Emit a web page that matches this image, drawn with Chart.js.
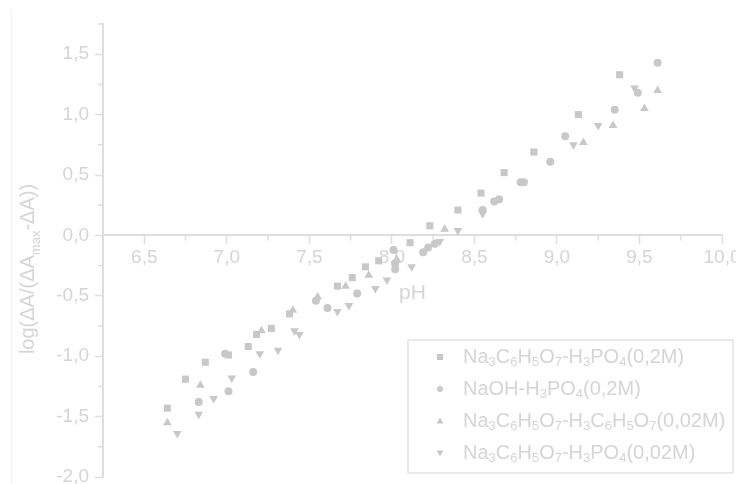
<!DOCTYPE html>
<html>
<head>
<meta charset="utf-8">
<script src="https://cdn.jsdelivr.net/npm/chart.js"></script>
<style>
  body { margin: 0; background: #fff; }
  #wrap { width: 736px; height: 484px; }
</style>
</head>
<body>
<div id="wrap"><canvas id="c" width="736" height="484"></canvas></div>
<script>
// Series (pH, log value)
const seriesNames = [
    "Na_3C_6H_5O_7-H_3PO_4(0,2M)",
    "NaOH-H_3PO_4(0,2M)",
    "Na_3C_6H_5O_7-H_3C_6H_5O_7(0,02M)",
    "Na_3C_6H_5O_7-H_3PO_4(0,02M)"
];

const citPhos02X = [6.64, 6.75, 6.87, 7.01, 7.13, 7.18, 7.27, 7.38, 7.67, 7.76, 7.84, 7.92, 8.11, 8.23, 8.40, 8.54, 8.68, 8.86, 9.13, 9.38];
const citPhos02Y = [-1.43, -1.19, -1.05, -0.99, -0.92, -0.82, -0.77, -0.65, -0.42, -0.35, -0.26, -0.21, -0.06, 0.08, 0.21, 0.35, 0.52, 0.69, 1.00, 1.33];

const naohPhosX = [6.83, 6.99, 7.01, 7.16, 7.54, 7.61, 7.79, 8.01, 8.02, 8.02, 8.19, 8.22, 8.26, 8.55, 8.62, 8.65, 8.78, 8.80, 8.96, 9.05, 9.35, 9.49, 9.61];
const naohPhosY = [-1.38, -0.98, -1.29, -1.13, -0.54, -0.60, -0.48, -0.12, -0.23, -0.28, -0.14, -0.10, -0.07, 0.21, 0.28, 0.30, 0.44, 0.44, 0.61, 0.82, 1.04, 1.18, 1.43];

const citCitX = [6.64, 6.84, 7.21, 7.40, 7.55, 7.72, 7.86, 8.03, 8.32, 9.16, 9.34, 9.53, 9.61];
const citCitY = [-1.55, -1.24, -0.79, -0.62, -0.51, -0.42, -0.33, -0.20, 0.05, 0.77, 0.91, 1.05, 1.20];

const citPhos002X = [6.70, 6.83, 6.92, 7.03, 7.20, 7.31, 7.41, 7.44, 7.67, 7.74, 7.90, 7.97, 8.12, 8.29, 8.40, 8.55, 9.10, 9.25, 9.47];
const citPhos002Y = [-1.64, -1.48, -1.35, -1.18, -0.98, -0.95, -0.79, -0.82, -0.63, -0.58, -0.44, -0.37, -0.26, -0.05, 0.04, 0.18, 0.75, 0.91, 1.22];

const xMin = 6.25, xMax = 10.0;
const yMin = -2.0, yMax = 1.75;
const xTitle = "pH";
const yTitle = "log(ΔA/(ΔA_{max}-ΔA))";

const FONT = "'Liberation Sans', Arial, sans-serif";
const markColor = "#c8c8c8";
const textColor = "#d5d5d5";
const axisColor = "#dedede";

function pts(xs, ys) {
    return xs.map((x, i) => ({ x: x, y: ys[i] }));
}

function isMajor(v) {
    return Math.abs(v * 2 - Math.round(v * 2)) < 1e-6;
}

function fmt(v) {
    return v.toFixed(1).replace('.', ',');
}

// split "H_3PO_4" style text into normal / subscript runs
function parseRich(str) {
    const parts = [];
    const re = /_\{([^}]*)\}|_(.)|([^_]+)/g;
    let m;
    while ((m = re.exec(str)) !== null) {
        if (m[1] !== undefined) parts.push([m[1], true]);
        else if (m[2] !== undefined) parts.push([m[2], true]);
        else parts.push([m[3], false]);
    }
    return parts;
}

function drawRich(ctx, str, x, y, size) {
    const parts = parseRich(str);
    const subSize = Math.round(size * 0.65);
    let cx = x;
    parts.forEach(p => {
        ctx.font = (p[1] ? subSize : size) + "px " + FONT;
        ctx.fillText(p[0], cx, p[1] ? y + size * 0.28 : y);
        cx += ctx.measureText(p[0]).width;
    });
    return cx - x;
}

function richWidth(ctx, str, size) {
    const parts = parseRich(str);
    const subSize = Math.round(size * 0.65);
    let w = 0;
    parts.forEach(p => {
        ctx.font = (p[1] ? subSize : size) + "px " + FONT;
        w += ctx.measureText(p[0]).width;
    });
    return w;
}

function drawMarker(ctx, style, x, y, r) {
    ctx.beginPath();
    if (style === 'rect') {
        ctx.rect(x - r, y - r, 2 * r, 2 * r);
    } else if (style === 'circle') {
        ctx.arc(x, y, r, 0, Math.PI * 2);
    } else if (style === 'up') {
        ctx.moveTo(x, y - r * 1.15);
        ctx.lineTo(x + r * 1.1, y + r * 0.8);
        ctx.lineTo(x - r * 1.1, y + r * 0.8);
        ctx.closePath();
    } else {
        ctx.moveTo(x, y + r * 1.15);
        ctx.lineTo(x + r * 1.1, y - r * 0.8);
        ctx.lineTo(x - r * 1.1, y - r * 0.8);
        ctx.closePath();
    }
    ctx.fill();
}

const extras = {
    id: 'extras',
    afterDraw(chart) {
        const ctx = chart.ctx;
        const xs = chart.scales.x, ys = chart.scales.y;
        ctx.save();

        // faint frame line at the left edge
        ctx.strokeStyle = "#f4f4f4";
        ctx.lineWidth = 1;
        ctx.beginPath();
        ctx.moveTo(11.5, 10);
        ctx.lineTo(11.5, 484);
        ctx.stroke();

        // minor ticks
        ctx.strokeStyle = axisColor;
        ctx.lineWidth = 1.5;
        xs.ticks.forEach(t => {
            if (isMajor(t.value)) return;
            const px = xs.getPixelForValue(t.value);
            const py = ys.getPixelForValue(0);
            ctx.beginPath();
            ctx.moveTo(px, py);
            ctx.lineTo(px, py + 5);
            ctx.stroke();
        });
        ys.ticks.forEach(t => {
            if (isMajor(t.value)) return;
            const py = ys.getPixelForValue(t.value);
            ctx.beginPath();
            ctx.moveTo(chart.chartArea.left, py);
            ctx.lineTo(chart.chartArea.left - 5, py);
            ctx.stroke();
        });

        // y title with subscript
        ctx.fillStyle = textColor;
        ctx.textBaseline = 'alphabetic';
        ctx.textAlign = 'left';
        const tw = richWidth(ctx, yTitle, 20);
        ctx.translate(34, 269);
        ctx.rotate(-Math.PI / 2);
        drawRich(ctx, yTitle, -tw / 2, 0, 20);
        ctx.setTransform(1, 0, 0, 1, 0, 0);

        // legend box
        ctx.strokeStyle = "#e3e3e3";
        ctx.lineWidth = 1.5;
        ctx.strokeRect(408, 340, 325, 133);
        const styles = ['rect', 'circle', 'up', 'down'];
        const rowY = [357, 389, 421, 453];
        seriesNames.forEach((name, i) => {
            ctx.fillStyle = markColor;
            drawMarker(ctx, styles[i], 440, rowY[i], 3);
            ctx.fillStyle = textColor;
            ctx.textBaseline = 'middle';
            drawRich(ctx, name, 463, rowY[i], 20);
        });
        ctx.restore();
    }
};

const tickFont = { family: FONT, size: 19 };

new Chart(document.getElementById('c'), {
    type: 'scatter',
    data: {
        datasets: [
            { label: seriesNames[0], data: pts(citPhos02X, citPhos02Y), pointStyle: 'rect', pointRadius: 5 },
            { label: seriesNames[1], data: pts(naohPhosX, naohPhosY), pointStyle: 'circle', pointRadius: 4 },
            { label: seriesNames[2], data: pts(citCitX, citCitY), pointStyle: 'triangle', pointRadius: 5 },
            { label: seriesNames[3], data: pts(citPhos002X, citPhos002Y), pointStyle: 'triangle', pointRotation: 180, pointRadius: 5 }
        ].map(d => Object.assign(d, {
            backgroundColor: markColor,
            borderColor: markColor,
            pointBorderWidth: 0
        }))
    },
    options: {
        responsive: false,
        animation: false,
        events: [],
        layout: { padding: { left: 0, top: 24, right: 14, bottom: 7 } },
        plugins: {
            legend: { display: false },
            tooltip: { enabled: false }
        },
        scales: {
            x: {
                type: 'linear',
                min: xMin,
                max: xMax,
                position: { y: 0 },
                border: { color: axisColor, width: 2 },
                grid: {
                    drawOnChartArea: false,
                    drawTicks: true,
                    tickLength: 8,
                    tickWidth: 1.5,
                    tickColor: c => isMajor(c.tick.value) ? axisColor : 'rgba(0,0,0,0)'
                },
                ticks: {
                    stepSize: 0.25,
                    autoSkip: false,
                    maxRotation: 0,
                    padding: 3,
                    color: textColor,
                    font: tickFont,
                    callback: v => isMajor(v) && v > xMin ? fmt(v) : ''
                },
                title: {
                    display: true,
                    text: xTitle,
                    color: textColor,
                    font: { family: FONT, size: 21 },
                    padding: { top: 8, bottom: 0 }
                },
                afterFit: s => { s.paddingLeft = 0; s.paddingRight = 0; }
            },
            y: {
                type: 'linear',
                min: yMin,
                max: yMax,
                border: { color: axisColor, width: 2 },
                grid: {
                    drawOnChartArea: false,
                    drawTicks: true,
                    tickLength: 8,
                    tickWidth: 1.5,
                    tickColor: c => isMajor(c.tick.value) ? axisColor : 'rgba(0,0,0,0)'
                },
                ticks: {
                    stepSize: 0.25,
                    autoSkip: false,
                    padding: 6,
                    color: textColor,
                    font: tickFont,
                    callback: v => isMajor(v) ? fmt(v) : ''
                },
                afterFit: s => { s.width = 103; s.paddingTop = 0; s.paddingBottom = 0; }
            }
        }
    },
    plugins: [extras]
});
</script>
</body>
</html>
